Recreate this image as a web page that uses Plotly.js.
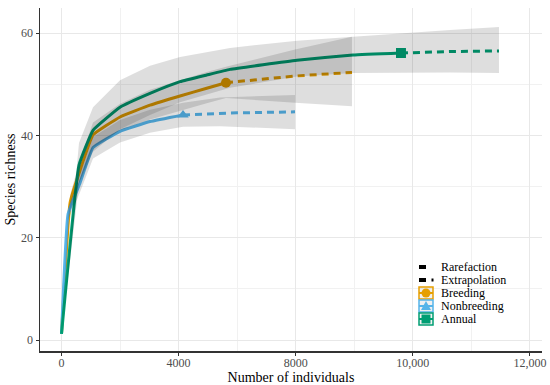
<!DOCTYPE html>
<html>
<head>
<meta charset="utf-8">
<script src="https://cdn.plot.ly/plotly-3.0.1.min.js"></script>
<style>html,body{margin:0;padding:0;background:#fff;}#chart{width:550px;height:385px;}</style>
</head>
<body>
<div id="chart"></div>
<script>
// ---- Data (x in axis position units; tick labels as printed) ----
const xTickPos = [0, 3000, 6000, 9000, 12000];
const xTickText = ['0', '4000', '8000', '10,000', '12,000'];
const yTickVals = [0, 20, 40, 60];

// Breeding
const breedRareX = [0, 218, 474, 807, 1499, 2267, 3036, 3720, 4214];
const breedRareY = [1.2, 26.8, 33.2, 40.1, 43.6, 45.9, 47.7, 49.2, 50.3];
const breedExtX = [4214, 5000, 5982, 7442];
const breedExtY = [50.3, 50.9, 51.6, 52.3];
const breedBandX = [0, 218, 474, 807, 1499, 2267, 3036, 3720, 4214, 5982, 7442];
const breedBandLo = [1.2, 25.3, 31.2, 37.7, 41.0, 43.1, 44.8, 46.3, 47.3, 46.4, 45.7];
const breedBandHi = [1.2, 28.3, 35.3, 42.5, 46.2, 48.9, 50.8, 52.4, 53.4, 56.8, 59.3];

// Nonbreeding
const nonRareX = [0, 167, 474, 807, 1499, 2267, 3113];
const nonRareY = [1.2, 24.6, 30.7, 37.6, 40.8, 42.7, 44.0];
const nonExtX = [3113, 4500, 5982];
const nonExtY = [44.0, 44.4, 44.6];
const nonBandX = [0, 167, 474, 807, 1499, 2267, 3113, 4060, 5982];
const nonBandLo = [1.2, 23.4, 28.9, 35.5, 38.6, 40.5, 41.7, 41.8, 41.2];
const nonBandHi = [1.2, 25.8, 32.5, 39.7, 43.0, 45.0, 46.4, 47.4, 47.9];

// Annual
const annRareX = [0, 448, 807, 1499, 2267, 3036, 3720, 4317, 6033, 7468, 8697];
const annRareY = [1.2, 34.2, 41.0, 45.5, 48.2, 50.5, 51.8, 52.9, 54.7, 55.7, 56.1];
const annExtX = [8697, 10000, 11208];
const annExtY = [56.1, 56.4, 56.5];
const annBandX = [0, 448, 807, 1499, 2267, 3036, 4317, 6033, 7468, 8697, 9953, 11208];
const annBandLo = [1.2, 30.5, 36.8, 41.2, 44.0, 46.5, 49.3, 51.5, 52.2, 52.3, 52.3, 52.2];
const annBandHi = [1.2, 38.5, 45.5, 50.8, 53.6, 55.3, 57.1, 58.5, 59.3, 60.0, 60.6, 61.2];

const seriesNames = ['Breeding', 'Nonbreeding', 'Annual'];
const seriesColors = ['#E69F00', '#56B4E9', '#009E73'];
const seriesSymbols = ['circle', 'triangle-up', 'square'];

// ---- Build traces ----
const FONT = 'Liberation Serif';
const series = [
  {rx: breedRareX, ry: breedRareY, ex: breedExtX, ey: breedExtY, bx: breedBandX, lo: breedBandLo, hi: breedBandHi},
  {rx: nonRareX, ry: nonRareY, ex: nonExtX, ey: nonExtY, bx: nonBandX, lo: nonBandLo, hi: nonBandHi},
  {rx: annRareX, ry: annRareY, ex: annExtX, ey: annExtY, bx: annBandX, lo: annBandLo, hi: annBandHi}
];
const traces = [];
series.forEach((s, i) => {
  const c = seriesColors[i];
  traces.push({x: s.rx, y: s.ry, type: 'scatter', mode: 'lines', line: {color: c, width: 3, shape: 'spline', smoothing: 0.3}, hoverinfo: 'skip', name: seriesNames[i]});
  traces.push({x: s.ex, y: s.ey, type: 'scatter', mode: 'lines', line: {color: c, width: 3, dash: '7px,5px'}, hoverinfo: 'skip'});
  traces.push({x: [s.rx[s.rx.length - 1]], y: [s.ry[s.ry.length - 1]], type: 'scatter', mode: 'markers', marker: {color: c, size: 10, symbol: seriesSymbols[i]}, hoverinfo: 'skip'});
});
series.forEach((s) => {
  const px = s.bx.concat(s.bx.slice().reverse());
  const py = s.hi.concat(s.lo.slice().reverse());
  traces.push({x: px, y: py, type: 'scatter', mode: 'lines', fill: 'toself', fillcolor: 'rgba(0,0,0,0.13)', line: {width: 0, color: 'rgba(0,0,0,0)'}, hoverinfo: 'skip'});
});

// ---- Manual legend (pixel positions -> paper) ----
const PL = 40, PR = 542, PT = 8, PB = 351;
const fx = p => (p - PL) / (PR - PL);
const fy = p => (PB - p) / (PB - PT);
const shapes = [];
const annotations = [];
const legX0 = 419, legX1 = 433, legTextX = 440;
const legRows = [267, 280, 293, 306, 319];
const legLabels = ['Rarefaction', 'Extrapolation'].concat(seriesNames);
// Rarefaction key
shapes.push({type: 'line', xref: 'paper', yref: 'paper', x0: fx(419), x1: fx(426), y0: fy(legRows[0]), y1: fy(legRows[0]), line: {color: '#000', width: 4}});
// Extrapolation key
shapes.push({type: 'line', xref: 'paper', yref: 'paper', x0: fx(419), x1: fx(426), y0: fy(legRows[1]), y1: fy(legRows[1]), line: {color: '#000', width: 4}});
shapes.push({type: 'line', xref: 'paper', yref: 'paper', x0: fx(431.5), x1: fx(433.5), y0: fy(legRows[1]), y1: fy(legRows[1]), line: {color: '#000', width: 3}});
// Series keys
for (let i = 0; i < 3; i++) {
  const cy = legRows[i + 2], cx = (legX0 + legX1) / 2, c = seriesColors[i];
  shapes.push({type: 'rect', xref: 'paper', yref: 'paper', x0: fx(legX0), x1: fx(legX1), y0: fy(cy - 6), y1: fy(cy + 6), line: {color: c, width: 1.5}, fillcolor: 'rgba(0,0,0,0.06)'});
  shapes.push({type: 'line', xref: 'paper', yref: 'paper', x0: fx(legX0), x1: fx(legX1), y0: fy(cy), y1: fy(cy), line: {color: c, width: 2}});
  if (i === 0) {
    shapes.push({type: 'circle', xref: 'paper', yref: 'paper', x0: fx(cx - 4.5), x1: fx(cx + 4.5), y0: fy(cy - 4.5), y1: fy(cy + 4.5), line: {width: 0}, fillcolor: c});
  } else if (i === 1) {
    const path = 'M' + fx(cx - 5) + ',' + fy(cy + 4) + ' L' + fx(cx + 5) + ',' + fy(cy + 4) + ' L' + fx(cx) + ',' + fy(cy - 5) + ' Z';
    shapes.push({type: 'path', xref: 'paper', yref: 'paper', path: path, line: {width: 0}, fillcolor: c});
  } else {
    shapes.push({type: 'rect', xref: 'paper', yref: 'paper', x0: fx(cx - 4.5), x1: fx(cx + 4.5), y0: fy(cy - 4.5), y1: fy(cy + 4.5), line: {width: 0}, fillcolor: c});
  }
}
legLabels.forEach((t, k) => {
  annotations.push({xref: 'paper', yref: 'paper', x: fx(legTextX), y: fy(legRows[k]), xanchor: 'left', yanchor: 'middle', text: t, showarrow: false, borderpad: 0, font: {family: FONT, size: 12, color: '#000'}});
});

const axisCommon = {
  showline: true, linecolor: '#333', linewidth: 1.5, ticks: 'outside', ticklen: 3, tickcolor: '#333', tickwidth: 1,
  showgrid: true, gridcolor: '#e8e8e8', gridwidth: 1, zeroline: false, automargin: false,
  tickfont: {family: FONT, size: 12, color: '#4d4d4d'}
};
const layout = {
  width: 550, height: 385,
  font: {family: FONT},
  margin: {l: PL, r: 550 - PR, t: PT, b: 385 - PB},
  paper_bgcolor: '#fff', plot_bgcolor: '#fff',
  showlegend: false,
  xaxis: Object.assign({}, axisCommon, {
    range: [-551, 12310], tickmode: 'array', tickvals: xTickPos, ticktext: xTickText,
    ticklabelstandoff: -3,
    minor: {tickvals: [1500, 4500, 7500, 10500], showgrid: true, gridcolor: '#f1f1f1', ticks: ''},
    title: {text: 'Number of individuals', font: {family: FONT, size: 14, color: '#000'}, standoff: 4}
  }),
  yaxis: Object.assign({}, axisCommon, {
    range: [-2.15, 64.9], tickmode: 'array', tickvals: yTickVals,
    minor: {tickvals: [10, 30, 50], showgrid: true, gridcolor: '#f1f1f1', ticks: ''},
    title: {text: 'Species richness', font: {family: FONT, size: 14, color: '#000'}, standoff: 2}
  }),
  shapes: shapes,
  annotations: annotations
};
Plotly.newPlot('chart', traces, layout, {staticPlot: true, displayModeBar: false});
</script>
</body>
</html>
